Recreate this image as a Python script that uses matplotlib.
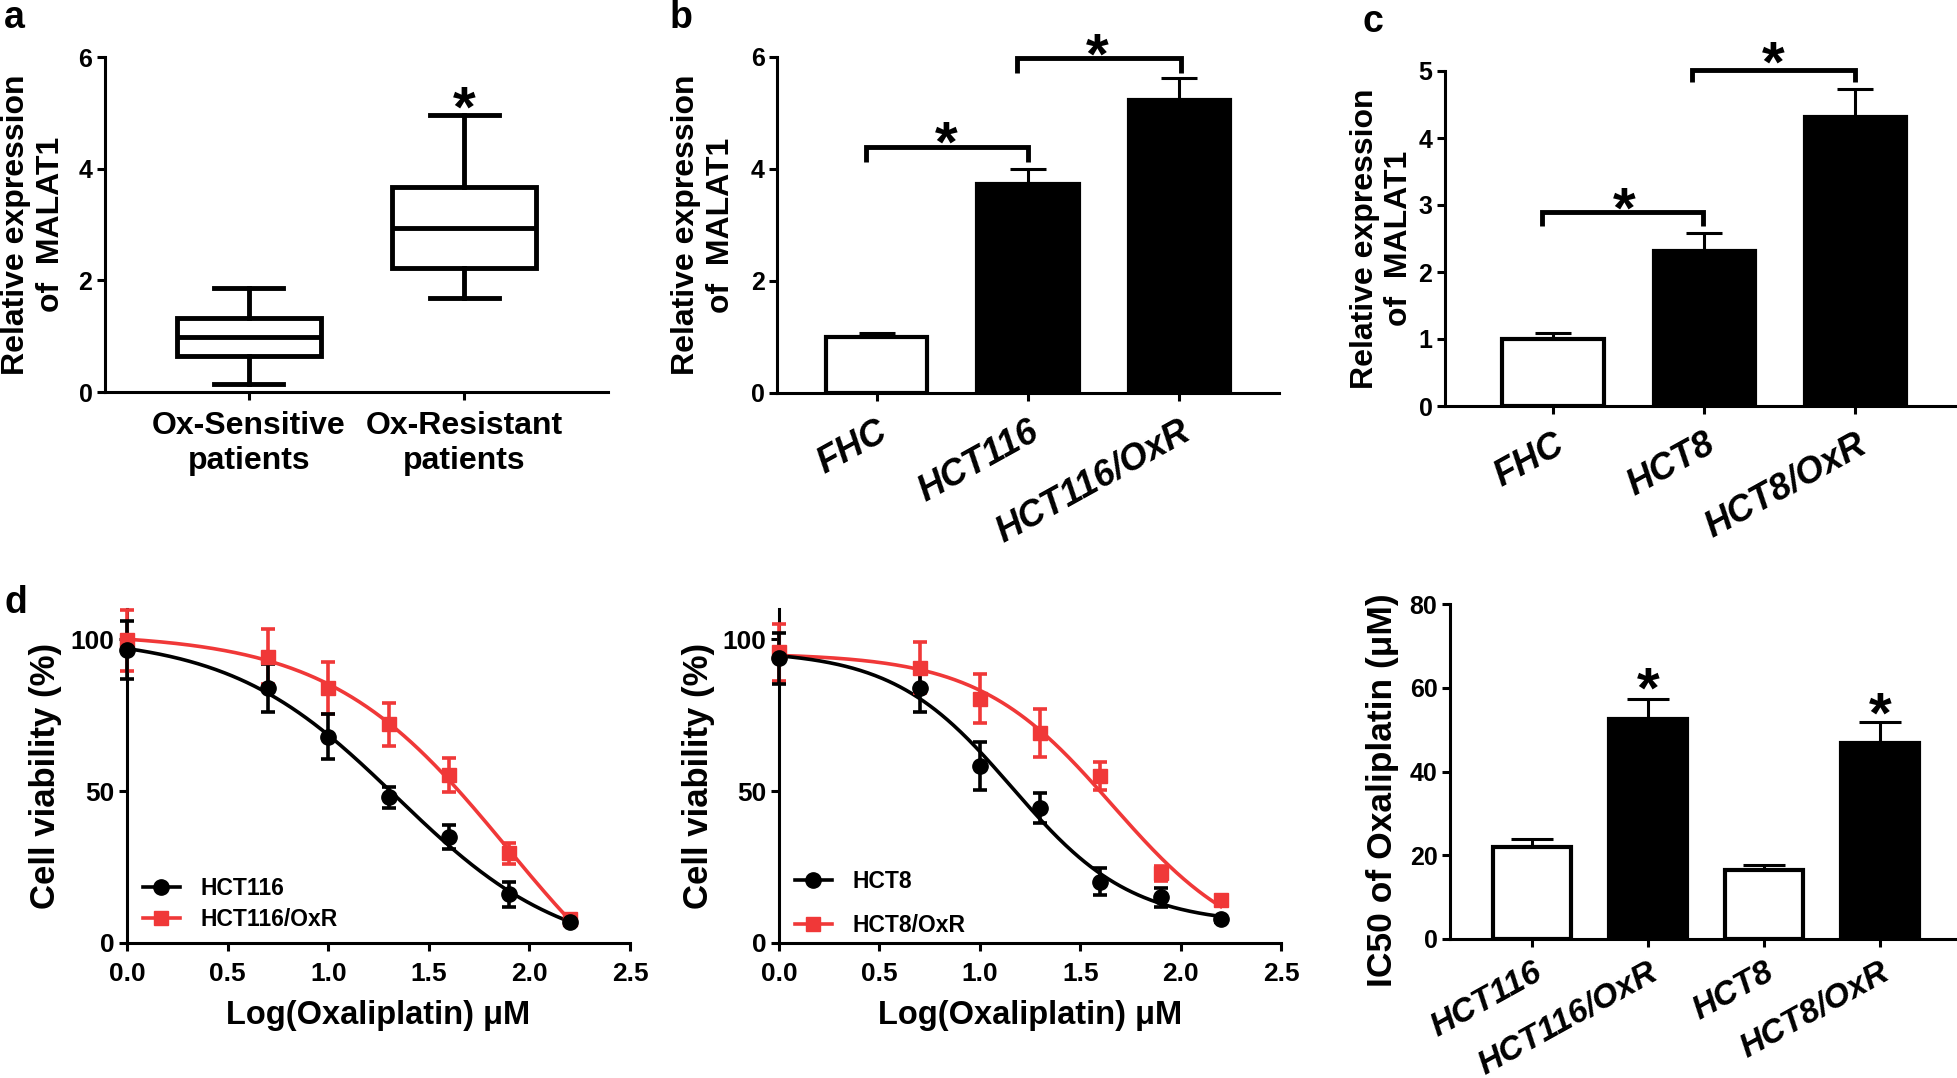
import numpy as np
import matplotlib
matplotlib.use('Agg')
import matplotlib.pyplot as plt
from matplotlib.lines import Line2D

plt.rcParams['font.family'] = ['Liberation Sans', 'DejaVu Sans']
plt.rcParams['font.weight'] = 'bold'
plt.rcParams['axes.labelweight'] = 'bold'
plt.rcParams['axes.linewidth'] = 2.2
for ax_ in ('xtick', 'ytick'):
    plt.rcParams[ax_ + '.major.width'] = 2.2
    plt.rcParams[ax_ + '.major.size'] = 6
    plt.rcParams[ax_ + '.direction'] = 'out'

# ---- data ----
# a: box plot
box_groups = ['Ox-Sensitive\npatients', 'Ox-Resistant\npatients']
box_whislo = [0.14, 1.68]
box_q1 = [0.65, 2.22]
box_med = [0.98, 2.94]
box_q3 = [1.33, 3.67]
box_whishi = [1.86, 4.96]

# b, c: relative expression of MALAT1
b_labels = ['FHC', 'HCT116', 'HCT116/OxR']
b_means = [1.0, 3.73, 5.24]
b_sem = [0.08, 0.27, 0.39]
c_labels = ['FHC', 'HCT8', 'HCT8/OxR']
c_means = [1.0, 2.31, 4.32]
c_sem = [0.09, 0.27, 0.41]

# d: dose response
log_dose = [0.0, 0.7, 1.0, 1.3, 1.6, 1.9, 2.2]
hct116_via = [96.4, 84.0, 68.0, 48.0, 35.0, 16.0, 7.0]
hct116_err = [9.5, 8.0, 7.5, 3.5, 4.0, 4.0, 1.0]
hct116oxr_via = [99.7, 94.3, 84.0, 72.0, 55.3, 29.5, 7.8]
hct116oxr_err = [10.0, 9.0, 8.5, 7.0, 5.5, 3.5, 1.5]
hct8_via = [93.7, 84.0, 58.3, 44.4, 20.2, 15.0, 8.0]
hct8_err = [8.5, 8.0, 8.0, 5.0, 4.5, 3.0, 1.0]
hct8oxr_via = [95.7, 90.7, 80.5, 69.2, 55.0, 23.0, 14.0]
hct8oxr_err = [9.5, 8.5, 8.0, 8.0, 4.5, 2.5, 1.0]

# e: IC50
e_labels = ['HCT116', 'HCT116/OxR', 'HCT8', 'HCT8/OxR']
e_means = [22.0, 52.5, 16.5, 46.8]
e_sem = [1.8, 4.8, 1.2, 5.0]

RED = '#f03838'
W, H = 1958, 1078
TICK = 18


def px_axes(fig, left, right, bottom, top):
    return fig.add_axes([left / W, 1 - bottom / H, (right - left) / W, (bottom - top) / H])


def clean(ax, ticksize=TICK):
    ax.spines['top'].set_visible(False)
    ax.spines['right'].set_visible(False)
    ax.tick_params(labelsize=ticksize, pad=3)


def star(ax, x, y, fs=42):
    ax.annotate('*', (x, y), xytext=(0, -0.45 * fs), textcoords='offset points',
                ha='center', va='baseline', fontsize=fs, fontweight='bold',
                annotation_clip=False)


def bracket(ax, x0, x1, y_top, y_end):
    ax.plot([x0, x0, x1, x1], [y_end, y_top, y_top, y_end], color='black',
            lw=3.5, clip_on=False, solid_joinstyle='miter', solid_capstyle='butt')


def bars(ax, means, sems, fills, capsize):
    x = np.arange(len(means))
    ax.errorbar(x, means, yerr=[np.zeros(len(means)), sems], fmt='none',
                ecolor='black', elinewidth=2.2, capsize=capsize, capthick=2.2, zorder=1)
    ax.bar(x, means, width=0.67, color=fills, edgecolor='black', linewidth=3, zorder=2)
    return x


def rot_labels(ax, x, labels, fs=26):
    ax.set_xticks(x)
    ax.set_xticklabels(labels, rotation=29, ha='right', rotation_mode='anchor',
                       fontsize=fs, fontstyle='italic')
    ax.tick_params(axis='x', pad=9)


def fit_4pl(x, y):
    # grid search on centre/slope, linear least squares for top/bottom
    x = np.asarray(x, float)
    y = np.asarray(y, float)
    cs = np.linspace(0.3, 3.5, 321)[:, None, None]
    hs = np.linspace(0.3, 4.0, 186)[None, :, None]
    f = 1.0 / (1.0 + 10 ** ((x[None, None, :] - cs) * hs))
    fm = f.mean(axis=2, keepdims=True)
    ym = y.mean()
    slope = ((f - fm) * (y - ym)).sum(axis=2, keepdims=True) / ((f - fm) ** 2).sum(axis=2, keepdims=True)
    inter = ym - slope * fm
    res = ((inter + slope * f - y) ** 2).sum(axis=2)
    i, j = np.unravel_index(np.argmin(res), res.shape)
    bottom = inter[i, j, 0]
    top = bottom + slope[i, j, 0]
    return top, bottom, cs[i, 0, 0], hs[0, j, 0]


def dose_panel(ax, via1, err1, via2, err2, names, leg_anchor, spacing):
    xs = np.linspace(0, max(log_dose), 300)
    for via, err, col, mk, ms in ((via2, err2, RED, 's', 10), (via1, err1, 'black', 'o', 11)):
        top, bot, c, h = fit_4pl(log_dose, via)
        ax.plot(xs, bot + (top - bot) / (1 + 10 ** ((xs - c) * h)), color=col, lw=2.6, zorder=2)
        cont = ax.errorbar(log_dose, via, yerr=err, fmt=mk, color=col, ms=ms,
                           elinewidth=2.6, capsize=5, capthick=2.6, zorder=3)
        for art in cont.get_children():
            art.set_clip_on(False)
    ax.set_xlim(0, 2.5)
    ax.set_ylim(0, 110)
    ax.set_yticks([0, 50, 100])
    ax.set_xticks(np.arange(0, 2.51, 0.5))
    ax.set_xticklabels(['%.1f' % v for v in np.arange(0, 2.51, 0.5)])
    clean(ax, 19)
    ax.tick_params(axis='x', pad=8)
    ax.set_xlabel('Log(Oxaliplatin) μM', fontsize=23.5, labelpad=10)
    ax.set_ylabel('Cell viability (%)', fontsize=25)
    handles = [Line2D([], [], color='black', marker='o', ms=11, lw=2.6),
               Line2D([], [], color=RED, marker='s', ms=10, lw=2.6)]
    ax.legend(handles, names, loc='lower left', bbox_to_anchor=leg_anchor, frameon=False,
              fontsize=16.5, handlelength=1.6, handletextpad=0.9, labelspacing=spacing,
              borderpad=0, borderaxespad=0)


fig = plt.figure(figsize=(W / 100, H / 100), dpi=100)

# ---- a ----
ax = px_axes(fig, 105, 608, 392, 57)
stats = [dict(whislo=lo, q1=q1, med=m, q3=q3, whishi=hi, label=lab)
         for lo, q1, m, q3, hi, lab in zip(box_whislo, box_q1, box_med, box_q3, box_whishi, box_groups)]
ax.bxp(stats, positions=[1, 2], widths=0.67, capwidths=0.32, showfliers=False, patch_artist=True,
       boxprops=dict(facecolor='white', edgecolor='black', linewidth=3.5),
       medianprops=dict(color='black', linewidth=3.5),
       whiskerprops=dict(color='black', linewidth=3.5),
       capprops=dict(color='black', linewidth=3.5))
ax.set_xlim(0.333, 2.667)
ax.set_ylim(0, 6)
ax.set_yticks([0, 2, 4, 6])
clean(ax)
ax.tick_params(axis='x', labelsize=23, pad=8)
ax.set_ylabel('Relative expression\nof  MALAT1', fontsize=23)
ax.yaxis.set_label_coords(-0.078, 0.5)
star(ax, 2, 5.22)

# ---- b ----
ax = px_axes(fig, 777, 1279, 393, 57)
x = bars(ax, b_means, b_sem, ['white', 'black', 'black'], 13)
ax.set_xlim(-0.66, 2.66)
ax.set_ylim(0, 6)
ax.set_yticks([0, 2, 4, 6])
clean(ax)
rot_labels(ax, x, b_labels)
ax.set_ylabel('Relative expression\nof  MALAT1', fontsize=23)
ax.yaxis.set_label_coords(-0.082, 0.5)
bracket(ax, -0.07, 1.0, 4.39, 4.12)
bracket(ax, 0.93, 2.01, 5.99, 5.72)
star(ax, 0.46, 4.6)
star(ax, 1.46, 6.18)

# ---- c ----
ax = px_axes(fig, 1445, 1958, 406, 71)
x = bars(ax, c_means, c_sem, ['white', 'black', 'black'], 13)
ax.set_xlim(-0.715, 2.68)
ax.set_ylim(0, 5)
ax.set_yticks([0, 1, 2, 3, 4, 5])
clean(ax)
rot_labels(ax, x, c_labels)
ax.set_ylabel('Relative expression\nof  MALAT1', fontsize=23)
ax.yaxis.set_label_coords(-0.06, 0.5)
bracket(ax, -0.07, 0.99, 2.89, 2.68)
bracket(ax, 0.92, 2.0, 5.01, 4.83)
star(ax, 0.47, 3.06)
star(ax, 1.46, 5.24)

# ---- d ----
ax = px_axes(fig, 127, 630, 943, 609)
dose_panel(ax, hct116_via, hct116_err, hct116oxr_via, hct116oxr_err,
           ['HCT116', 'HCT116/OxR'], (0.032, 0.036), 0.36)
ax.yaxis.set_label_coords(-0.13, 0.5)

ax = px_axes(fig, 779, 1281, 943, 609)
dose_panel(ax, hct8_via, hct8_err, hct8oxr_via, hct8oxr_err,
           ['HCT8', 'HCT8/OxR'], (0.032, 0.018), 0.9)
ax.yaxis.set_label_coords(-0.127, 0.5)

# ---- e ----
ax = px_axes(fig, 1450, 1958, 939, 604)
x = bars(ax, e_means, e_sem, ['white', 'black', 'white', 'black'], 15)
ax.set_xlim(-0.707, 3.67)
ax.set_ylim(0, 80)
ax.set_yticks([0, 20, 40, 60, 80])
clean(ax)
rot_labels(ax, x, e_labels, fs=24)
ax.tick_params(axis='x', pad=7)
ax.set_ylabel('IC50 of Oxaliplatin (μM)', fontsize=25.5)
ax.yaxis.set_label_coords(-0.1, 0.445)
star(ax, 1, 61.5)
star(ax, 3, 55.5)

# panel letters
for lab, (px, py) in zip('abcd', [(4, 28), (670, 28), (1363, 32), (4, 613)]):
    fig.text(px / W, 1 - py / H, lab, fontsize=27, fontweight='bold', ha='left', va='baseline')

fig.savefig('out.png', dpi=100, facecolor='white')
